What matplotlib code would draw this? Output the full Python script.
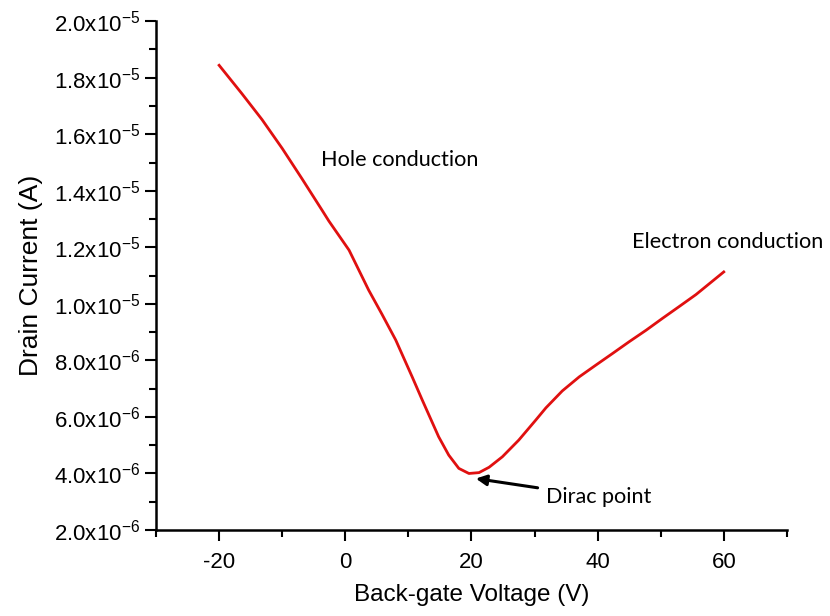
import matplotlib
matplotlib.use("Agg")
import matplotlib.pyplot as plt
from matplotlib.ticker import MultipleLocator, FuncFormatter

plt.rcParams["font.family"] = "Liberation Sans"
plt.rcParams["mathtext.fontset"] = "custom"
plt.rcParams["mathtext.rm"] = "Liberation Sans"
plt.rcParams["axes.unicode_minus"] = False

# values (current in units of 1e-6 A)
voltage = [-20, -16.4, -13.2, -10.0, -6.9, -3.7, -2.6, 0.6, 3.7, 5.8, 8.0,
           10.6, 12.2, 13.3, 14.8, 16.4, 18.0, 19.6, 21.2, 22.8, 24.9,
           27.5, 30.2, 31.8, 34.4, 37.1, 39.7, 42.4, 45.0, 47.7, 50.3,
           52.9, 55.6, 60]
current = [18.44, 17.44, 16.52, 15.50, 14.44, 13.32, 12.93, 11.90, 10.49,
           9.64, 8.72, 7.42, 6.60, 6.05, 5.30, 4.65, 4.18, 4.00, 4.03, 4.22,
           4.59, 5.18, 5.89, 6.32, 6.92, 7.42, 7.83, 8.25, 8.66, 9.07, 9.49,
           9.90, 10.33, 11.13]

fig = plt.figure(figsize=(8.3, 6.16), dpi=100)
ax = fig.add_axes([0.188, 0.1396, 0.760, 0.826])

ax.plot(voltage, [c * 1e-6 for c in current], color="#e01010", lw=2,
        solid_joinstyle="round")

ax.set_xlim(-30, 70)
ax.set_ylim(2e-6, 2e-5)
ax.xaxis.set_major_locator(MultipleLocator(20))
ax.xaxis.set_minor_locator(MultipleLocator(10))
ax.yaxis.set_major_locator(MultipleLocator(2e-6))
ax.yaxis.set_minor_locator(MultipleLocator(1e-6))

def fmt(v, pos):
    exp = -5 if v >= 9.99e-6 else -6
    return r"%.1fx10$^{%d}$" % (v / 10**exp, exp)

ax.yaxis.set_major_formatter(FuncFormatter(fmt))

for side in ["top", "right"]:
    ax.spines[side].set_visible(False)
for side in ["left", "bottom"]:
    ax.spines[side].set_linewidth(1.8)
ax.tick_params(which="major", direction="out", length=8, width=1.5, labelsize=16)
ax.tick_params(which="minor", direction="out", length=5, width=1.5)
ax.tick_params(axis="x", pad=8)

ax.set_xlabel("Back-gate Voltage (V)", fontsize=17.5, labelpad=8)
ax.set_ylabel("Drain Current (A)", fontsize=19, labelpad=8)

note = ["Lato", "DejaVu Sans"]
ax.text(-3.8, 15.08e-6, "Hole conduction", fontsize=15.6, family=note, va="center")
ax.text(45.5, 12.18e-6, "Electron conduction", fontsize=15.6, family=note, va="center")
ax.annotate("Dirac point", xy=(20.7, 3.82e-6), xytext=(31.8, 3.17e-6),
            fontsize=15.6, family=note, va="center",
            arrowprops=dict(arrowstyle="-|>", color="black", lw=2.2, shrinkA=4, shrinkB=0))

fig.savefig("out.png", dpi=100)
